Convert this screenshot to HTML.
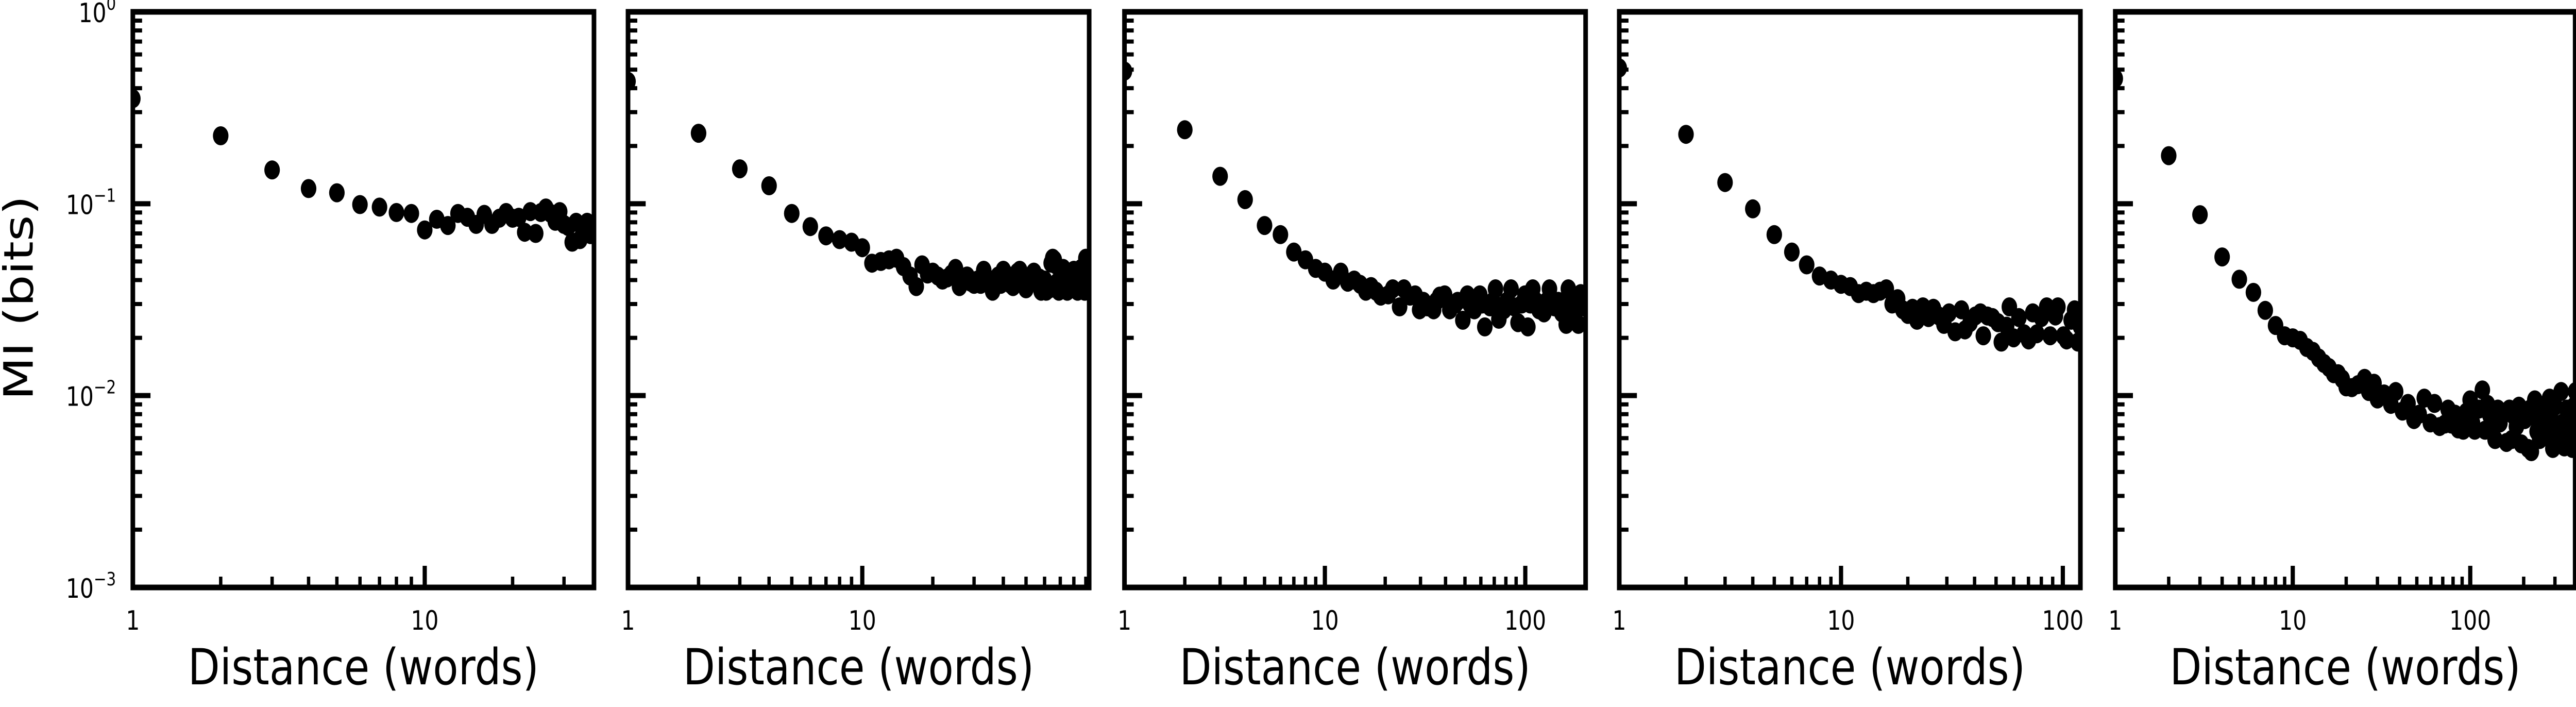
<!DOCTYPE html>
<html><head><meta charset="utf-8">
<style>
html,body{margin:0;padding:0;background:#fff;width:100%;height:100%;overflow:hidden;}
svg{display:block;width:100vw;height:100vh;font-family:"DejaVu Sans","Liberation Sans",sans-serif;}
</style></head>
<body>
<svg id="chart" viewBox="0 0 6128 1372" preserveAspectRatio="none" xmlns="http://www.w3.org/2000/svg">
<rect x="0" y="0" width="6128" height="1372" fill="#fff"/>
<text transform="translate(78,578) rotate(-90)" text-anchor="middle" font-size="96" textLength="397" lengthAdjust="spacingAndGlyphs">MI (bits)</text>
</svg>
<script>
// ---- data ----
const yTickExps = [0, -1, -2, -3];
const xTickLabels = ["1", "10", "100"];
const panelXMax = [38, 93, 200, 120, 390];

const p1X = [1,2,3,4,5,6,7,8,9,10,11,12,13,14,15,16,17,18,19,20,21,22,23,24,25,26,27,28,29,30,31,32,33,34,35,36,37,38];
const p1Y = [0.353,0.226,0.150,0.120,0.114,0.099,0.096,0.090,0.089,0.073,0.083,0.077,0.089,0.085,0.078,0.088,0.078,0.084,0.090,0.084,0.085,0.071,0.091,0.070,0.090,0.095,0.089,0.081,0.091,0.078,0.076,0.063,0.080,0.065,0.076,0.080,0.069,0.072];

const p2X = [1,2,3,4,5,6,7,8,9,10,11,12,13,14,15,16,17,18,19,20,21,22,23,24,25,26,27,28,29,30,31,32,33,34,35,36,37,38,39,40,41,42,43,44,45,46,47,48,49,50,51,52,53,54,55,56,57,58,59,60,61,62,63,64,65,66,67,68,69,70,71,72,73,74,75,76,77,78,79,80,81,82,83,84,85,86,87,88,89,90,91,92,93];
const p2Y = [0.434,0.233,0.152,0.124,0.089,0.076,0.068,0.065,0.063,0.059,0.049,0.050,0.051,0.052,0.047,0.042,0.037,0.048,0.043,
0.044,0.042,0.040,0.041,0.043,0.046,0.037,0.040,0.042,0.039,
0.038,0.040,0.038,0.045,0.041,0.039,0.035,0.040,0.042,0.038,
0.045,0.043,0.041,0.038,0.037,0.041,0.044,0.045,0.040,0.039,
0.036,0.038,0.039,0.042,0.044,0.040,0.039,0.041,0.035,0.037,
0.040,0.035,0.038,0.036,0.049,0.052,0.051,0.048,0.039,0.035,
0.041,0.043,0.046,0.039,0.037,0.035,0.040,0.042,0.044,0.039,
0.045,0.041,0.036,0.035,0.039,0.044,0.046,0.041,0.037,0.035,0.052,0.040,0.047];

const p3X = [1,2,3,4,5,6,7,8,9,10,11,12,13,14,15,16,17,18,19,20.7,21.8,23.6,24.8,26.6,28.2,29.7,31,32.5,34.9,36,37.4,39.6,42,44.8,46,48.8,51.4,53,55.7,59.3,61,62.8,66.7,69,71,73.8,78.3,81,84.9,88,92,96,99.6,103,106,109,113,117,120,124,128,132,136,140,146,152,156,160,164,170,175,180,184,189,195,200];
const p3Y = [0.491,0.243,0.139,0.105,0.077,0.069,0.056,0.051,0.046,0.044,0.040,0.044,0.039,0.040,0.038,0.035,0.037,0.035,0.033,0.0335,0.036,0.029,0.036,0.033,0.0335,0.028,0.031,0.029,0.028,0.031,0.033,0.0335,0.028,0.030,0.031,0.0247,0.0335,0.030,0.028,0.0335,0.030,0.0228,0.029,0.031,0.036,0.025,0.028,0.031,0.036,0.029,0.024,0.030,0.0335,0.0228,0.030,0.036,0.031,0.028,0.030,0.027,0.031,0.036,0.030,0.029,0.031,0.027,0.030,0.0235,0.036,0.031,0.028,0.030,0.0235,0.034,0.029,0.031];

const p4X = [1,2,3,4,5,6,7,8,9,10,11,12,13,14,15,16,17,18,19,20,21,22,23.4,24.8,26.1,27.6,29.1,30.7,32.7,34.9,36.2,38.2,40.3,42.5,43.8,45.7,48.2,51,52.8,55.8,57.4,60,63.4,66.9,70.1,73.2,76.4,80.1,84.6,87.7,92.6,95,100.7,104,109,113,117,120];
const p4Y = [0.51,0.230,0.129,0.094,0.069,0.056,0.048,0.042,0.040,0.038,0.037,0.034,0.035,0.034,0.035,0.036,0.030,0.032,0.028,0.0265,0.0285,0.0247,0.029,0.0255,0.0285,0.026,0.0235,0.027,0.0215,0.028,0.022,0.024,0.026,0.027,0.0205,0.026,0.0255,0.024,0.019,0.023,0.029,0.020,0.0255,0.021,0.0195,0.027,0.021,0.0255,0.029,0.0205,0.026,0.029,0.0205,0.0195,0.0247,0.028,0.019,0.023];

const p5X = [1,2,3,4,5,6,7,8,9,10,11,12,13,14,15,16,17,18,19,20,21.5,23.3,25.4,26.8,28.7,30,32.7,35.7,38,41.5,44.6,48.2,51.6,55.1,59.6,62.9,67.2,71.8,75,78.3,82,85.5,88,91.3,95,99.8,103,106,112,117,121,125,129,134,138,143,147,154,160,166,171,177,182,188,194,203,212,217,221,226,231,238,246,254,262,271,280,286,292,301,311,318,325,332,339,350,361,368,376,384,392];
const p5Y = [0.449,0.178,0.0877,0.0528,0.0404,0.0345,0.0278,0.0232,0.0205,0.0200,0.0194,0.0178,0.0170,0.0157,0.0147,0.0140,0.0130,0.0130,0.0122,0.0111,0.0110,0.0114,0.0123,0.0105,0.0116,0.0096,0.0102,0.0090,0.0105,0.0083,0.0091,0.0075,0.0080,0.0097,0.0072,0.0091,0.0069,0.0071,0.0085,0.0071,0.0080,0.0067,0.0078,0.0066,0.0082,0.0095,0.0072,0.0066,0.0085,0.0107,0.0066,0.0090,0.0079,0.0070,0.0059,0.0085,0.0072,0.0080,0.0057,0.0085,0.0059,0.0078,0.0069,0.0088,0.0056,0.0075,0.0053,0.0085,0.0051,0.0078,0.0095,0.0065,0.0059,0.0085,0.0069,0.0062,0.0097,0.0075,0.0053,0.0088,0.0069,0.0060,0.0105,0.0072,0.0054,0.0085,0.0076,0.0062,0.0053,0.0088,0.0105];

const panelXs = [p1X, p2X, p3X, p4X, p5X];
const panelYs = [p1Y, p2Y, p3Y, p4Y, p5Y];

// ---- layout ----
const SVGNS = "http://www.w3.org/2000/svg";
const chartSvg = document.getElementById("chart");
const panelLeft = [316, 1494, 2675, 3852, 5032];
const panelW = [1097, 1097, 1097, 1097, 1094];
const plotTop = 23, plotBottom = 1140;
const yMinExp = -3, yMaxExp = 0;

function yScale(v) { return plotTop + (yMaxExp - Math.log10(v)) / (yMaxExp - yMinExp) * (plotBottom - plotTop); }

function mk(tag, attrs) {
  const e = document.createElementNS(SVGNS, tag);
  for (const k in attrs) e.setAttribute(k, attrs[k]);
  return e;
}

for (let p = 0; p < 5; p++) {
  const L = panelLeft[p], W = panelW[p], xmax = panelXMax[p];
  const xScale = v => L + Math.log10(v) / Math.log10(xmax) * W;
  const g = mk("g", {});
  
  
  chartSvg.appendChild(g);

  const cp = mk("clipPath", { id: "clip" + p });
  cp.appendChild(mk("rect", { x: L, y: plotTop, width: W, height: plotBottom - plotTop }));
  g.appendChild(cp);

  const pts = mk("g", { "clip-path": "url(#clip" + p + ")" });
  
  
  g.appendChild(pts);
  const xs = panelXs[p], ys = panelYs[p];
  for (let i = 0; i < xs.length; i++) {
    const c = mk("circle", { cx: xScale(xs[i]).toFixed(1), cy: yScale(ys[i]).toFixed(1), r: 18.5, fill: "#000" });
    
    
    pts.appendChild(c);
  }

  for (let e = yMinExp; e <= yMaxExp; e++) {
    const y = yScale(Math.pow(10, e));
    const t = mk("line", { x1: L, x2: L + 42, y1: y, y2: y, stroke: "#000", "stroke-width": 10 });
    
    
    g.appendChild(t);
    if (e < yMaxExp) {
      for (let m = 2; m <= 9; m++) {
        const ym = yScale(m * Math.pow(10, e));
        const tm = mk("line", { x1: L, x2: L + 22, y1: ym, y2: ym, stroke: "#000", "stroke-width": 8 });
        
        
        g.appendChild(tm);
      }
    }
  }
  const maxExp = Math.floor(Math.log10(xmax));
  for (let e = 0; e <= maxExp; e++) {
    const xv = xScale(Math.pow(10, e));
    const t = mk("line", { x1: xv, x2: xv, y1: plotBottom, y2: plotBottom - 42, stroke: "#000", "stroke-width": 10 });
    
    
    g.appendChild(t);
    const lab = mk("text", { x: xv, y: 1222, "text-anchor": "middle", "font-size": 52 });
    lab.textContent = xTickLabels[e];
    
    
    g.appendChild(lab);
    for (let m = 2; m <= 9; m++) {
      const v = m * Math.pow(10, e);
      if (v > xmax) break;
      const xm = xScale(v);
      const tm = mk("line", { x1: xm, x2: xm, y1: plotBottom, y2: plotBottom - 21, stroke: "#000", "stroke-width": 8 });
      
      
      g.appendChild(tm);
    }
  }

  const fr = mk("rect", { x: L, y: plotTop, width: W, height: plotBottom - plotTop, fill: "none", stroke: "#000", "stroke-width": 11 });
  
  
  g.appendChild(fr);

  const xt = mk("text", { x: L + W / 2, y: 1328, "text-anchor": "middle", "font-size": 96, textLength: 835, lengthAdjust: "spacingAndGlyphs" });
  xt.textContent = "Distance (words)";
  
  
  g.appendChild(xt);

  if (p === 0) {
    for (let k = 0; k < yTickExps.length; k++) {
      const y = yScale(Math.pow(10, yTickExps[k]));
      const tx = mk("text", { x: 276, y: y + 20, "text-anchor": "end", "font-size": 52 });
      
      
      const base = mk("tspan", {});
      base.textContent = "10";
      const sup = mk("tspan", { dy: -24, "font-size": 36 });
      sup.textContent = yTickExps[k] === 0 ? "0" : "\u2212" + Math.abs(yTickExps[k]);
      tx.appendChild(base);
      tx.appendChild(sup);
      g.appendChild(tx);
    }
  }
}
</script>
</body></html>
